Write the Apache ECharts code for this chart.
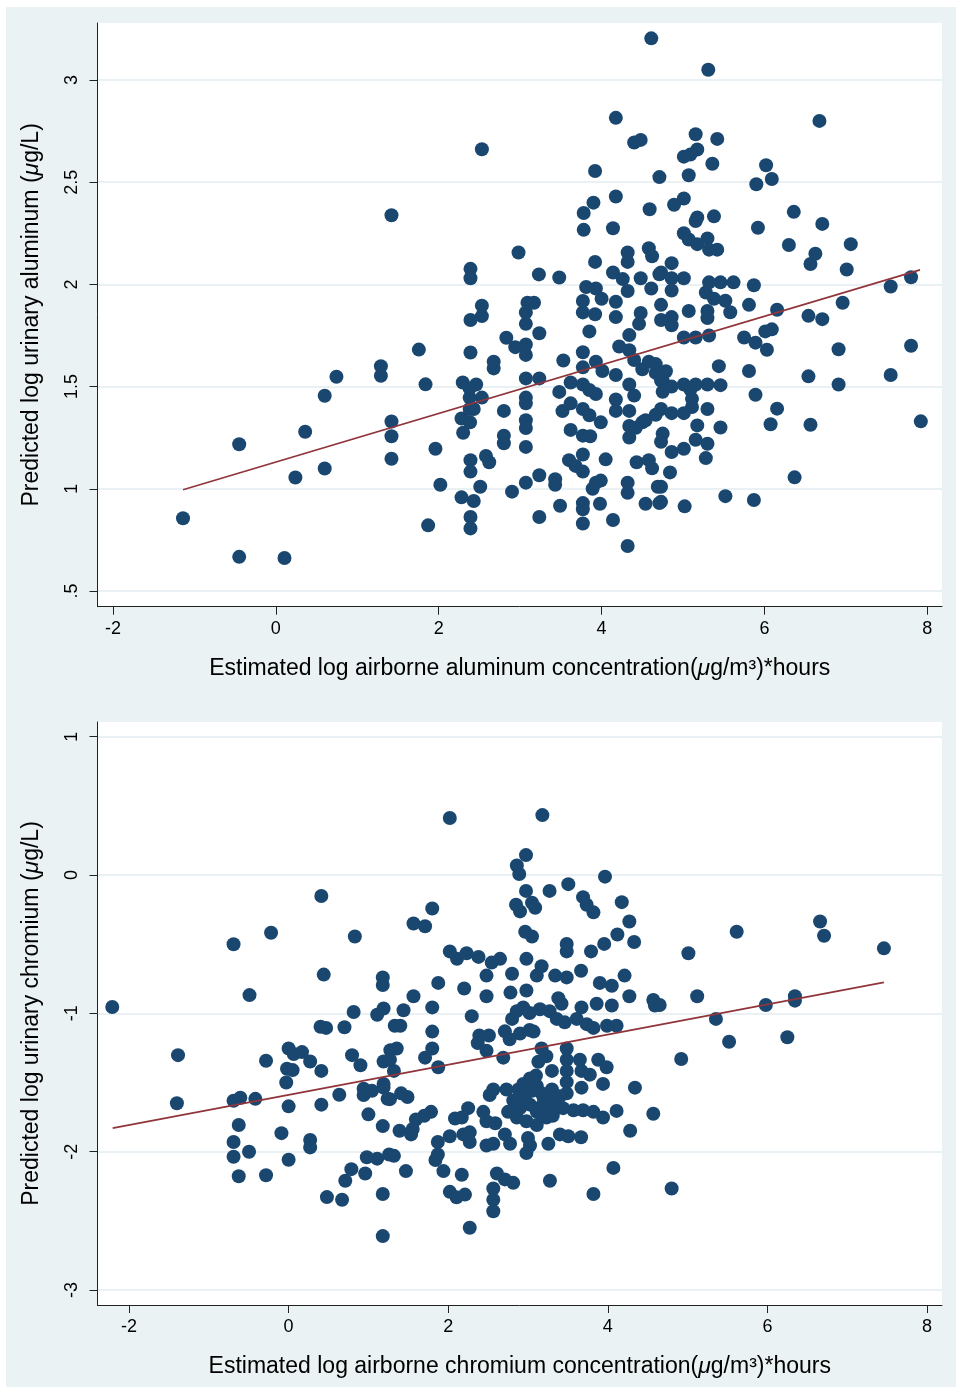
<!DOCTYPE html>
<html>
<head>
<meta charset="utf-8">
<script src="https://cdn.jsdelivr.net/npm/echarts@6/dist/echarts.min.js"></script>
<style>
html,body{margin:0;padding:0;background:#ffffff;}
#chart{width:956px;height:1387px;}
</style>
</head>
<body>
<div id="chart"></div>
<script>
// ---------- DATA ----------
const xTicks = [-2, 0, 2, 4, 6, 8];
const alumYTicks = [0.5, 1, 1.5, 2, 2.5, 3];
const chromYTicks = [-3, -2, -1, 0, 1];

const alumXTitle = 'Estimated log airborne aluminum concentration({i|μ}g/m³)*hours';
const alumYTitle = 'Predicted log urinary aluminum ({i|μ}g/L)';
const chromXTitle = 'Estimated log airborne chromium concentration({i|μ}g/m³)*hours';
const chromYTitle = 'Predicted log urinary chromium ({i|μ}g/L)';

// [estimated log airborne Al, predicted log urinary Al]
const alumPoints = [
[-1.14,0.856],[-0.45,1.218],[-0.45,0.667],[0.106,0.661],[0.24,1.055],[0.36,1.279],[0.60,1.099],[0.60,1.455],[0.744,1.548],
[1.29,1.600],[1.29,1.553],[1.42,2.338],[1.42,1.329],[1.42,1.257],[1.42,1.147],
[4.61,3.204],[4.175,2.815],[4.40,2.694],[4.48,2.707],[2.53,2.661],[4.71,2.525],[3.92,2.555],[3.90,2.40],[4.175,2.43],
[3.78,2.349],[3.78,2.267],[4.14,2.275],[4.59,2.368],[2.98,2.156],[2.39,2.076],[2.39,2.03],[3.23,2.049],[3.48,2.034],
[3.92,2.11],[4.32,2.156],[4.32,2.11],[4.58,2.177],[4.62,2.138],[4.14,2.058],[4.26,2.026],[4.48,2.03],[4.71,2.05],
[3.81,1.987],[3.93,1.98],[4.0,1.93],[4.32,1.968],[4.61,1.98],[3.77,1.919],[3.77,1.863],[3.92,1.854],[4.175,1.915],
[4.175,1.84],[4.48,1.86],[2.53,1.896],[2.53,1.845],[2.39,1.826],[2.39,1.667],[3.09,1.91],[3.17,1.91],[3.07,1.863],
[3.07,1.807],[3.235,1.761],[2.83,1.739],[2.94,1.693],[3.07,1.706],[3.07,1.655],[2.675,1.622],[2.675,1.589],[1.756,1.681],
[1.838,1.511],[3.53,1.628],[3.77,1.668],[3.77,1.594],[3.85,1.77],[3.93,1.622],[4.01,1.576],[4.175,1.557],[4.216,1.696],
[4.34,1.752],[4.34,1.678],[4.46,1.807],[4.50,1.585],[4.58,1.622],[4.665,1.567],[4.75,1.53],[2.295,1.52],[2.38,1.49],
[2.46,1.51],[2.38,1.446],[2.53,1.446],[2.38,1.39],[3.07,1.54],[3.235,1.54],[3.07,1.446],[3.07,1.418],[3.07,1.335],
[3.07,1.297],[3.07,1.205],[2.80,1.381],[2.80,1.26],[2.80,1.223],[2.43,1.39],[2.28,1.344],[2.385,1.325],[2.30,1.274],
[1.96,1.196],[2.02,1.02],[2.28,0.958],[2.43,0.94],[1.87,0.821],[2.39,1.14],[2.39,1.084],[2.58,1.16],[2.62,1.13],
[2.51,1.01],[2.39,0.862],[2.39,0.806],[2.90,0.986],[3.07,1.03],[3.235,1.066],[3.235,0.862],[3.43,1.047],[3.43,1.02],
[3.49,0.917],[3.52,1.38],[3.48,1.474],[3.62,1.52],[3.77,1.51],[3.85,1.483],[3.93,1.464],[3.62,1.418],[3.77,1.39],
[3.85,1.36],[3.99,1.325],[3.62,1.288],[3.77,1.26],[3.86,1.257],[3.60,1.14],[3.68,1.112],[3.77,1.084],[3.77,1.168],
[4.05,1.144],[4.175,1.437],[4.175,1.381],[4.34,1.381],[4.34,1.307],[4.34,1.251],[4.42,1.298],[4.50,1.325],[4.54,1.335],
[4.665,1.362],[4.75,1.27],[4.43,1.13],[4.32,1.03],[4.32,0.98],[3.89,1.0],[3.93,1.03],[3.99,1.04],[3.77,0.93],[3.77,0.90],
[3.77,0.83],[3.98,0.927],[4.14,0.847],[4.32,0.72],[4.54,0.927],[4.71,0.93],[4.69,1.01],[4.58,1.14],[4.62,1.10],
[4.40,1.63],[4.665,1.61],[4.79,1.575],[4.34,1.51],[4.40,1.456],
[5.31,3.05],[6.675,2.80],[5.155,2.735],[5.175,2.66],[5.01,2.625],[5.09,2.635],[5.42,2.712],[5.36,2.59],[5.07,2.534],
[6.02,2.583],[6.09,2.516],[5.90,2.49],[4.89,2.39],[5.01,2.42],[6.36,2.355],[6.71,2.296],[5.175,2.327],[5.155,2.31],
[5.38,2.333],[5.92,2.277],[5.01,2.25],[5.07,2.22],[5.175,2.197],[5.30,2.225],[5.32,2.17],[5.42,2.17],[6.30,2.193],
[7.06,2.197],[6.625,2.15],[6.565,2.10],[7.01,2.073],[4.86,2.104],[4.73,2.058],[4.86,2.03],[5.01,2.03],[4.86,1.97],
[5.32,2.01],[5.46,2.01],[5.62,2.01],[5.28,1.96],[5.38,1.93],[5.52,1.92],[5.58,1.864],[5.87,1.996],[5.81,1.90],
[6.155,1.876],[7.55,1.99],[7.80,2.035],[6.54,1.846],[6.71,1.83],[6.96,1.91],[5.07,1.87],[5.30,1.87],[5.30,1.835],
[4.86,1.84],[4.86,1.80],[4.73,1.90],[4.73,1.826],[5.32,1.75],[5.155,1.74],[5.01,1.74],[5.75,1.74],[5.89,1.715],
[6.01,1.77],[6.09,1.78],[6.03,1.68],[6.91,1.683],[7.80,1.70],[5.44,1.60],[5.81,1.576],[5.46,1.507],[5.30,1.51],
[5.155,1.51],[5.09,1.485],[5.01,1.51],[4.86,1.50],[4.73,1.53],[4.75,1.475],[5.11,1.44],[5.11,1.40],[5.01,1.37],
[4.86,1.37],[4.73,1.39],[5.30,1.39],[5.46,1.30],[5.175,1.31],[5.155,1.24],[5.30,1.22],[5.28,1.15],[5.01,1.196],
[4.86,1.18],[4.73,1.23],[4.84,1.08],[4.73,1.01],[4.73,0.936],[5.02,0.914],[5.52,0.964],[5.87,0.945],[5.89,1.46],
[6.155,1.392],[6.075,1.316],[6.54,1.55],[6.91,1.51],[7.55,1.557],[6.565,1.313],[6.37,1.056],[7.92,1.33]
];
const alumFit = [[-1.14, 0.995], [7.91, 2.071]];

// [estimated log airborne Cr, predicted log urinary Cr]
const chromPoints = [
[-2.21,-0.954],[-1.386,-1.302],[-1.40,-1.65],[-0.69,-0.50],[-0.22,-0.417],[-0.49,-0.868],[-0.69,-1.632],[-0.605,-1.61],
[-0.417,-1.618],[-0.625,-1.807],[-0.69,-1.93],[-0.69,-2.036],[-0.496,-2.0],[-0.625,-2.177],[-0.283,-1.343],[-0.283,-2.17],
[0.0,-1.254],[0.064,-1.294],[0.168,-1.28],[0.27,-1.348],[-0.02,-1.40],[0.05,-1.41],[-0.03,-1.50],[0.0,-1.672],
[-0.09,-1.866],[0.0,-2.058],[0.27,-1.915],[0.27,-1.969],[0.41,-0.152],[0.44,-0.72],[0.40,-1.097],[0.47,-1.105],
[0.41,-1.416],[0.41,-1.66],[0.635,-1.588],[0.70,-1.10],[0.815,-0.99],[0.83,-0.444],[0.795,-1.302],[0.90,-1.375],
[0.94,-1.545],[0.94,-1.59],[1.045,-1.56],[1.0,-1.73],[1.18,-0.74],[1.18,-0.795],[1.11,-1.01],[1.19,-0.965],
[1.275,-1.267],[1.19,-1.348],[1.32,-1.416],[1.19,-1.51],[1.19,-1.537],[1.27,-1.62],[1.18,-1.815],[0.786,-2.126],
[0.71,-2.21],[0.67,-2.347],[0.48,-2.328],[0.96,-2.158],[0.98,-2.04],[1.11,-2.05],[1.18,-2.306],[1.18,-2.61],
[1.32,-2.03],[1.33,-1.09],
[2.02,0.412],[3.18,0.433],[2.975,0.144],[2.86,0.069],[2.89,0.007],[3.965,-0.012],[3.505,-0.066],[3.27,-0.115],
[2.975,-0.115],[2.85,-0.215],[2.90,-0.263],[3.05,-0.2],[3.09,-0.237],[3.69,-0.16],[3.735,-0.215],[3.82,-0.27],
[4.175,-0.196],[4.27,-0.336],[4.33,-0.484],[1.80,-0.242],[1.565,-0.35],[1.71,-0.37],[2.965,-0.41],[3.05,-0.444],
[3.485,-0.498],[3.485,-0.552],[3.79,-0.552],[3.955,-0.498],[4.12,-0.43],[2.02,-0.552],[2.11,-0.606],[2.23,-0.565],
[2.38,-0.592],[2.545,-0.633],[2.65,-0.606],[2.48,-0.727],[2.80,-0.714],[2.98,-0.606],[3.17,-0.66],[3.11,-0.727],
[3.34,-0.727],[3.485,-0.74],[3.665,-0.692],[3.90,-0.78],[4.05,-0.80],[4.21,-0.727],[4.27,-0.876],[4.57,-0.903],
[4.59,-0.943],[1.875,-0.78],[2.20,-0.82],[1.565,-0.876],[2.48,-0.876],[2.78,-0.85],[2.98,-0.835],[3.38,-0.89],
[3.42,-0.93],[1.44,-0.978],[1.80,-0.957],[1.40,-1.09],[2.295,-1.02],[3.67,-0.957],[3.86,-0.93],[4.05,-0.943],
[2.80,-1.04],[2.86,-0.984],[2.94,-0.957],[3.02,-0.997],[3.15,-0.97],[3.27,-0.984],[3.36,-1.04],[3.46,-1.065],
[3.61,-1.04],[3.735,-1.078],[3.82,-1.105],[3.99,-1.09],[4.11,-1.09],[1.80,-1.132],[1.80,-1.254],[1.71,-1.32],
[1.875,-1.39],[1.355,-1.254],[1.27,-1.335],[2.39,-1.16],[2.51,-1.16],[2.37,-1.215],[2.48,-1.27],[2.71,-1.13],
[2.77,-1.187],[2.90,-1.146],[3.02,-1.12],[3.07,-1.132],[2.69,-1.32],[3.17,-1.254],[3.23,-1.31],[3.13,-1.35],
[3.30,-1.416],[3.485,-1.254],[3.485,-1.335],[3.485,-1.416],[3.485,-1.497],[3.485,-1.578],[3.65,-1.335],[3.67,-1.416],
[3.775,-1.443],[3.88,-1.335],[3.985,-1.39],[3.94,-1.51],[3.67,-1.537],[4.34,-1.537],[4.57,-1.726],[4.28,-1.848],
[4.11,-1.705],[3.94,-1.753],[3.82,-1.712],[3.69,-1.70],[3.57,-1.70],[3.44,-1.685],[3.255,-1.66],[3.36,-1.685],
[3.025,-1.47],[2.94,-1.51],[3.11,-1.524],[2.88,-1.55],[2.98,-1.578],[3.17,-1.578],[2.815,-1.63],[2.90,-1.685],
[3.025,-1.66],[3.11,-1.712],[3.19,-1.74],[2.86,-1.753],[2.98,-1.78],[3.11,-1.807],[3.23,-1.753],[3.31,-1.74],
[2.73,-1.55],[2.75,-1.712],[2.565,-1.55],[2.52,-1.59],[2.44,-1.712],[2.48,-1.78],[2.59,-1.794],[2.71,-1.875],
[2.775,-1.942],[3.0,-1.90],[3.025,-1.955],[2.98,-2.01],[3.255,-1.942],[3.40,-1.875],[3.505,-1.888],[3.665,-1.896],
[2.48,-1.955],[2.565,-1.942],[2.25,-1.685],[2.17,-1.753],[2.085,-1.76],[2.27,-1.86],[2.19,-1.875],[2.27,-1.93],
[1.785,-1.712],[1.70,-1.74],[1.595,-1.767],[1.555,-1.835],[1.49,-1.605],[1.41,-1.578],[1.39,-1.848],[1.535,-1.875],
[1.24,-1.618],[1.26,-2.02],[1.47,-2.14],[1.87,-1.93],[1.87,-2.02],[1.84,-2.06],[1.94,-2.14],[2.02,-1.888],
[2.17,-2.166],[2.02,-2.29],[2.105,-2.33],[2.21,-2.31],[2.27,-2.55],[2.61,-2.158],[2.71,-2.2],[2.815,-2.225],
[2.565,-2.266],[2.565,-2.347],[2.565,-2.43],[3.275,-2.21],[3.82,-2.306],[4.07,-2.117],
[3.05,-1.56],[3.2,-1.62],[3.1,-1.45],[3.3,-1.55],[3.35,-1.62],[2.95,-1.62],[3.15,-1.68],[3.4,-1.6],
[6.66,-0.336],[6.71,-0.439],[7.46,-0.53],[5.615,-0.41],[5.01,-0.565],[5.12,-0.876],[4.65,-0.94],[5.355,-1.04],
[5.98,-0.94],[6.345,-0.876],[6.345,-0.908],[5.52,-1.205],[6.25,-1.173],[4.92,-1.33],[4.80,-2.266]
];
const chromFit = [[-2.205, -1.829], [7.46, -0.776]];

// ---------- STYLE ----------
const FONT = '"Liberation Sans", Arial, Helvetica, sans-serif';
const BG = '#EAF2F3';
const MARKER = '#1A476F';
const FIT = '#90353B';
const AXIS = '#222222';
const GRIDLINE = '#E3EDF0';
const TITLE_SIZE = 23;
const TICK_SIZE = 18;

function yLabel(v) {
  if (v === 0.5) return '.5';
  return String(v);
}

function xAxisCfg(gridIndex, min, max, title) {
  return {
    type: 'value', gridIndex, min, max,
    axisLine: { show: true, onZero: false, lineStyle: { color: AXIS, width: 1 } },
    axisTick: { show: true, length: 8, customValues: xTicks, lineStyle: { color: AXIS, width: 1 } },
    axisLabel: { customValues: xTicks, margin: 13, color: '#000', fontSize: TICK_SIZE, fontFamily: FONT,
      formatter: v => String(v) },
    splitLine: { show: false },
    name: title, nameLocation: 'middle', nameGap: 50,
    nameTextStyle: { color: '#000', fontSize: TITLE_SIZE, fontFamily: FONT,
      rich: { i: { fontStyle: 'italic', fontSize: TITLE_SIZE, fontFamily: FONT, color: '#000' } } }
  };
}

function yAxisCfg(gridIndex, min, max, ticks, title) {
  return {
    type: 'value', gridIndex, min, max,
    axisLine: { show: true, onZero: false, lineStyle: { color: AXIS, width: 1 } },
    axisTick: { show: true, length: 8, customValues: ticks, lineStyle: { color: AXIS, width: 1 } },
    axisLabel: { customValues: ticks, rotate: 90, margin: 16, color: '#000', fontSize: TICK_SIZE, fontFamily: FONT,
      formatter: yLabel },
    splitLine: { show: true, customValues: ticks, lineStyle: { color: GRIDLINE, width: 1.5 } },
    name: title, nameLocation: 'middle', nameGap: 54, nameRotate: 90,
    nameTextStyle: { color: '#000', fontSize: TITLE_SIZE, fontFamily: FONT,
      rich: { i: { fontStyle: 'italic', fontSize: TITLE_SIZE, fontFamily: FONT, color: '#000' } } }
  };
}

const chart = echarts.init(document.getElementById('chart'), null, { renderer: 'canvas', width: 956, height: 1387 });

chart.setOption({
  backgroundColor: BG,
  animation: false,
  graphic: [
    { type: 'rect', left: 0, top: 0, shape: { width: 956, height: 7 }, style: { fill: '#ffffff' }, silent: true },
    { type: 'rect', left: 0, top: 0, shape: { width: 6, height: 1387 }, style: { fill: '#ffffff' }, silent: true }
  ],
  grid: [
    { left: 97.5, top: 23, width: 844.5, height: 583.7, show: true, backgroundColor: '#ffffff', borderWidth: 0 },
    { left: 97.5, top: 722, width: 844.5, height: 583, show: true, backgroundColor: '#ffffff', borderWidth: 0 }
  ],
  xAxis: [
    xAxisCfg(0, -2.19, 8.18, alumXTitle),
    xAxisCfg(1, -2.395, 8.188, chromXTitle)
  ],
  yAxis: [
    yAxisCfg(0, 0.423, 3.279, alumYTicks, alumYTitle),
    yAxisCfg(1, -3.108, 1.106, chromYTicks, chromYTitle)
  ],
  series: [
    { type: 'scatter', xAxisIndex: 0, yAxisIndex: 0, data: alumPoints, symbol: 'circle', symbolSize: 14,
      itemStyle: { color: MARKER, opacity: 1 }, z: 2 },
    { type: 'line', xAxisIndex: 0, yAxisIndex: 0, data: alumFit, showSymbol: false, symbol: 'none',
      lineStyle: { color: FIT, width: 1.7 }, z: 3 },
    { type: 'scatter', xAxisIndex: 1, yAxisIndex: 1, data: chromPoints, symbol: 'circle', symbolSize: 14,
      itemStyle: { color: MARKER, opacity: 1 }, z: 2 },
    { type: 'line', xAxisIndex: 1, yAxisIndex: 1, data: chromFit, showSymbol: false, symbol: 'none',
      lineStyle: { color: FIT, width: 1.7 }, z: 3 }
  ]
});
</script>
</body>
</html>
